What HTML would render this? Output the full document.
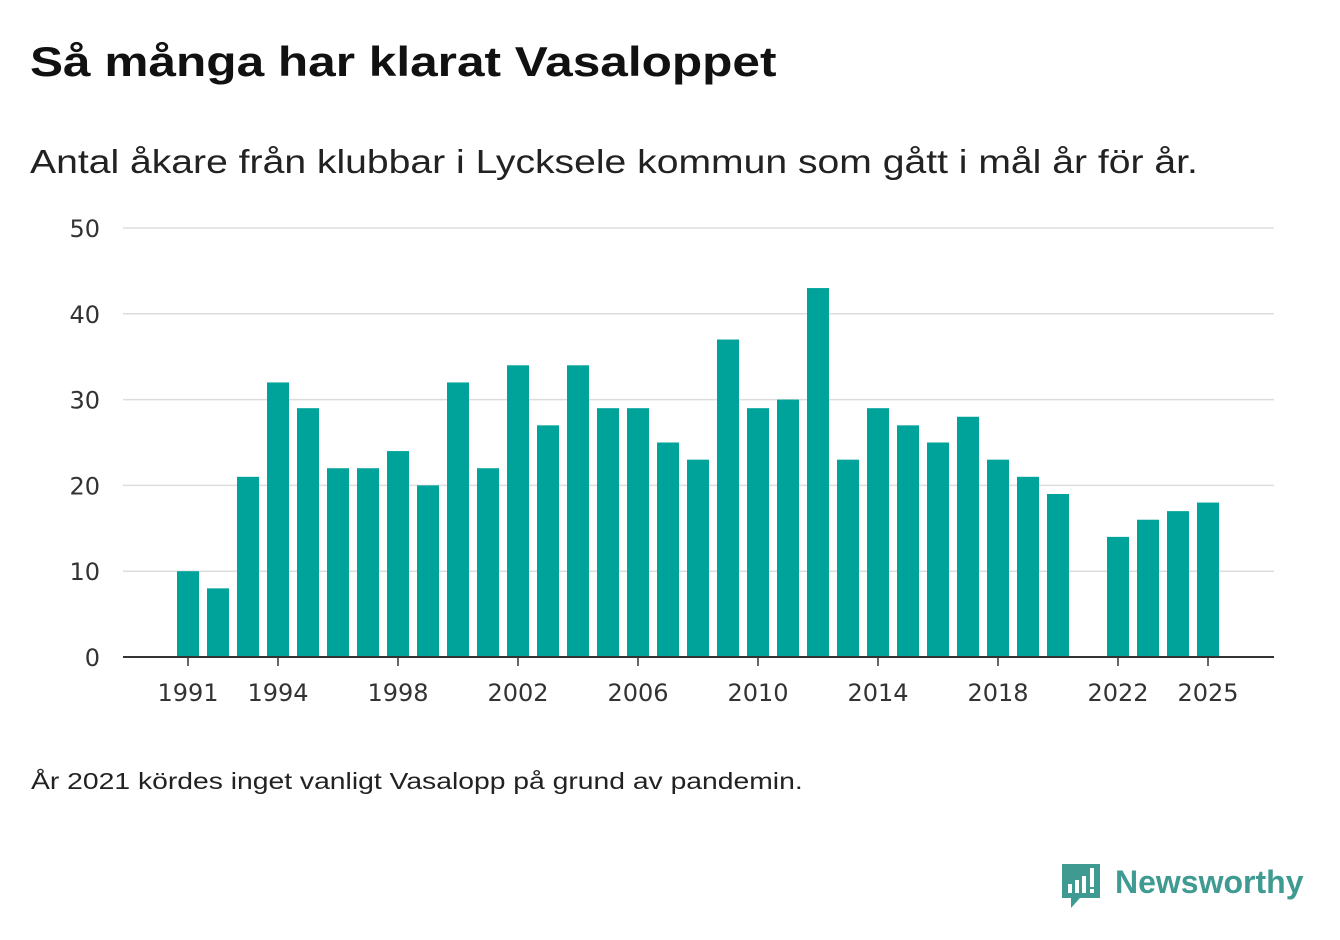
<!DOCTYPE html>
<html><head><meta charset="utf-8"><style>
body{margin:0;width:1340px;height:940px;background:#fff;font-family:"Liberation Sans",sans-serif;color:#111;position:relative;overflow:hidden}
h1{position:absolute;left:30px;top:38px;margin:0;font-size:42px;font-weight:bold;transform:scaleX(1.18);transform-origin:left top;white-space:nowrap}
.sub{position:absolute;left:30px;top:143px;font-size:33px;color:#222;transform:scaleX(1.185);transform-origin:left top;white-space:nowrap}
.note{position:absolute;left:31px;top:768px;font-size:23px;color:#222;transform:scaleX(1.23);transform-origin:left top;white-space:nowrap}
svg{position:absolute;left:0;top:0}
</style></head><body>
<h1>Så många har klarat Vasaloppet</h1>
<div class="sub">Antal åkare från klubbar i Lycksele kommun som gått i mål år för år.</div>
<div class="note">År 2021 kördes inget vanligt Vasalopp på grund av pandemin.</div>
<svg id="chart" width="1340" height="940"></svg>
<svg width="1340" height="940">
<path d="M1062 864h38v34h-20l-9 10v-10h-9z" fill="#3f9a91"/>
<rect x="1068" y="884" width="4" height="9" fill="#fff"/><rect x="1075" y="880" width="4" height="13" fill="#fff"/><rect x="1082" y="876" width="4" height="17" fill="#fff"/><rect x="1090" y="868" width="4" height="19" fill="#fff"/><rect x="1090" y="889" width="4" height="4" fill="#fff"/>
<text x="1115" y="893" font-size="32" font-weight="bold" fill="#3f9a91" font-family="Liberation Sans,sans-serif">Newsworthy</text>
</svg>
<script>
const years=[1991,1992,1993,1994,1995,1996,1997,1998,1999,2000,2001,2002,2003,2004,2005,2006,2007,2008,2009,2010,2011,2012,2013,2014,2015,2016,2017,2018,2019,2020,2021,2022,2023,2024,2025];
const values=[10,8,21,32,29,22,22,24,20,32,22,34,27,34,29,29,25,23,37,29,30,43,23,29,27,25,28,23,21,19,null,14,16,17,18];
const yTicks=[0,10,20,30,40,50];
const xTickYears=[1991,1994,1998,2002,2006,2010,2014,2018,2022,2025];
const svg=document.getElementById('chart');
const NS='http://www.w3.org/2000/svg';
const x=yr=>188+(yr-1991)*30;
const y=v=>657-v*8.58;
function mk(t,a){const e=document.createElementNS(NS,t);for(const k in a)e.setAttribute(k,a[k]);svg.appendChild(e);return e;}
yTicks.forEach(t=>{
 if(t>0){const g=mk('line',{x1:123,x2:1274,y1:y(t),y2:y(t),stroke:'#ddd','stroke-width':1.5});
 
 }
 const l=mk('text',{x:100,y:y(t)+9,'text-anchor':'end','font-size':24,fill:'#333','font-family':'DejaVu Sans,sans-serif'});l.textContent=t;
 
 
});
years.forEach((yr,i)=>{
 const v=values[i];if(v==null)return;
 const b=mk('rect',{x:x(yr)-11,y:y(v),width:22,height:657-y(v),fill:'#00a39a'});
 
 
});
const ax=mk('line',{x1:123,x2:1274,y1:657,y2:657,stroke:'#333','stroke-width':2});


xTickYears.forEach(yr=>{
 const tk=mk('line',{x1:x(yr),x2:x(yr),y1:657,y2:666,stroke:'#333','stroke-width':1.5});
 
 
 const l=mk('text',{x:x(yr),y:701,'text-anchor':'middle','font-size':24,fill:'#333','font-family':'DejaVu Sans,sans-serif'});l.textContent=yr;
 
 
});
</script>
</body></html>
